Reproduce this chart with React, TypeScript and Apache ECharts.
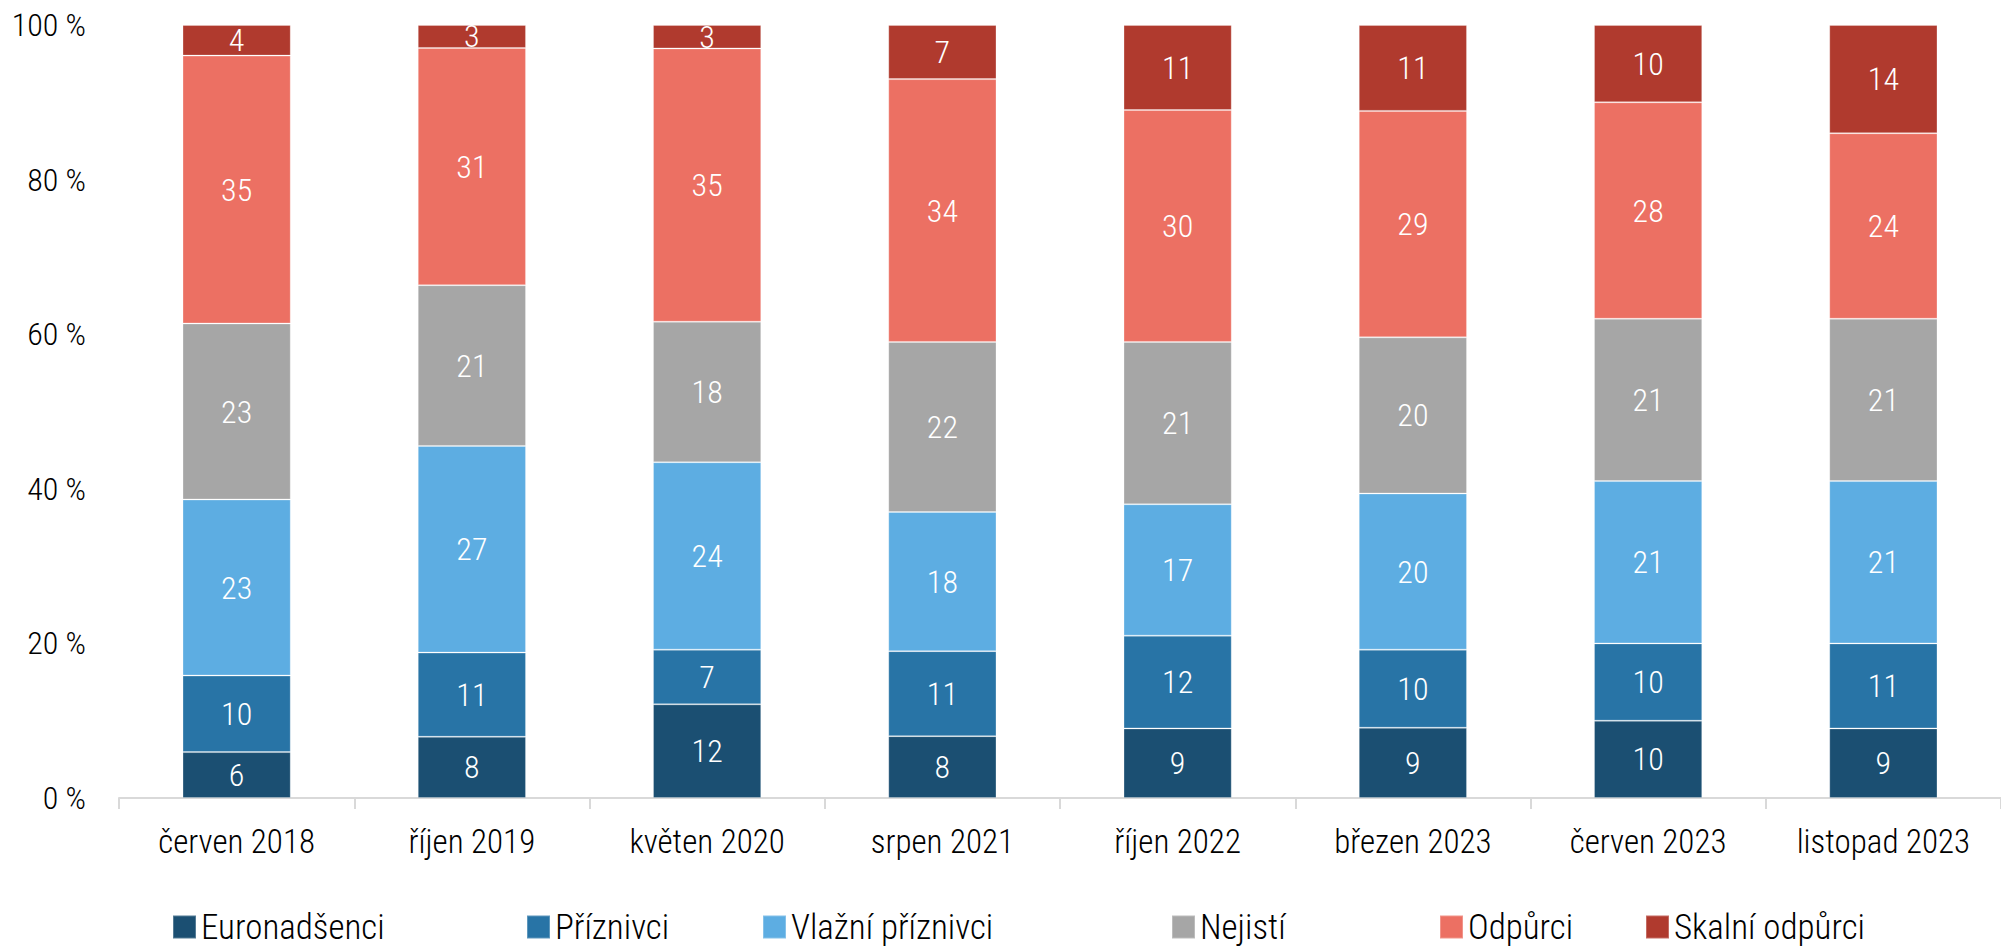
import React, { useEffect, useRef } from "react";
import * as echarts from "echarts";

const categories = [
  "červen 2018",
  "říjen 2019",
  "květen 2020",
  "srpen 2021",
  "říjen 2022",
  "březen 2023",
  "červen 2023",
  "listopad 2023",
];

const seriesNames = [
  "Euronadšenci",
  "Příznivci",
  "Vlažní příznivci",
  "Nejistí",
  "Odpůrci",
  "Skalní odpůrci",
];

const euronadsenci = [6, 8, 12, 8, 9, 9, 10, 9];
const priznivci = [10, 11, 7, 11, 12, 10, 10, 11];
const vlazniPriznivci = [23, 27, 24, 18, 17, 20, 21, 21];
const nejisti = [23, 21, 18, 22, 21, 20, 21, 21];
const odpurci = [35, 31, 35, 34, 30, 29, 28, 24];
const skalniOdpurci = [4, 3, 3, 7, 11, 11, 10, 14];

const yTicks = [0, 20, 40, 60, 80, 100];

const colors = ["#1B4F72", "#2874A6", "#5DADE2", "#A6A6A6", "#EC7063", "#B03A2E"];
const legendLefts = [172, 526, 762, 1171, 1439, 1645];

const FONT = "'Roboto Condensed', 'Liberation Sans Narrow', Roboto, sans-serif";

export default function App() {
  const ref = useRef<HTMLDivElement>(null);

  useEffect(() => {
    if (!ref.current) return;
    const chart = echarts.init(ref.current, undefined, { renderer: "svg" });
    const raw = [euronadsenci, priznivci, vlazniPriznivci, nejisti, odpurci, skalniOdpurci];
    const totals = categories.map((_, i) => raw.reduce((s, arr) => s + arr[i], 0));

    const series = raw.map((arr, si) => ({
      name: seriesNames[si],
      type: "bar",
      stack: "total",
      barWidth: "46%",
      data: arr.map((v, i) => (v / totals[i]) * 100),
      itemStyle: {
        color: colors[si],
        borderColor: "rgba(255,255,255,0.25)",
        borderWidth: 1,
      },
      label: {
        show: true,
        position: "inside",
        color: "#ffffff",
        fontSize: 32,
        fontWeight: 300,
        fontFamily: FONT,
        formatter: (p: any) => String(raw[si][p.dataIndex]),
      },
    }));

    const legends = seriesNames.map((n, i) => ({
      data: [n],
      left: legendLefts[i],
      top: 909,
      padding: 0,
      itemWidth: 23,
      itemHeight: 23,
      itemGap: 10,
      icon: "rect",
      textStyle: { fontSize: 35, lineHeight: 36, fontWeight: 300, fontFamily: FONT, color: "#000" },
    }));

    chart.setOption({
      animation: false,
      color: colors,
      grid: { left: 119, top: 25, width: 1898, height: 773, containLabel: false },
      legend: legends,
      xAxis: {
        type: "category",
        data: categories,
        boundaryGap: true,
        axisLine: { show: true, lineStyle: { color: "#D9D9D9", width: 2 } },
        axisTick: { show: true, length: 11, lineStyle: { color: "#D9D9D9", width: 2 } },
        axisLabel: {
          fontSize: 33,
          fontWeight: 300,
          fontFamily: FONT,
          color: "#000",
          margin: 27,
          interval: 0,
        },
      },
      yAxis: {
        type: "value",
        min: yTicks[0],
        max: yTicks[yTicks.length - 1],
        interval: 20,
        axisLine: { show: false },
        axisTick: { show: false },
        splitLine: { show: false },
        axisLabel: {
          formatter: "{value} %",
          fontSize: 32,
          fontWeight: 300,
          fontFamily: FONT,
          color: "#000",
          margin: 33,
        },
      },
      series,
    });

    return () => chart.dispose();
  }, []);

  return (
    <div
      ref={ref}
      style={{ position: "fixed", left: 0, top: 0, width: 2001, height: 946, background: "#fff" }}
    />
  );
}
